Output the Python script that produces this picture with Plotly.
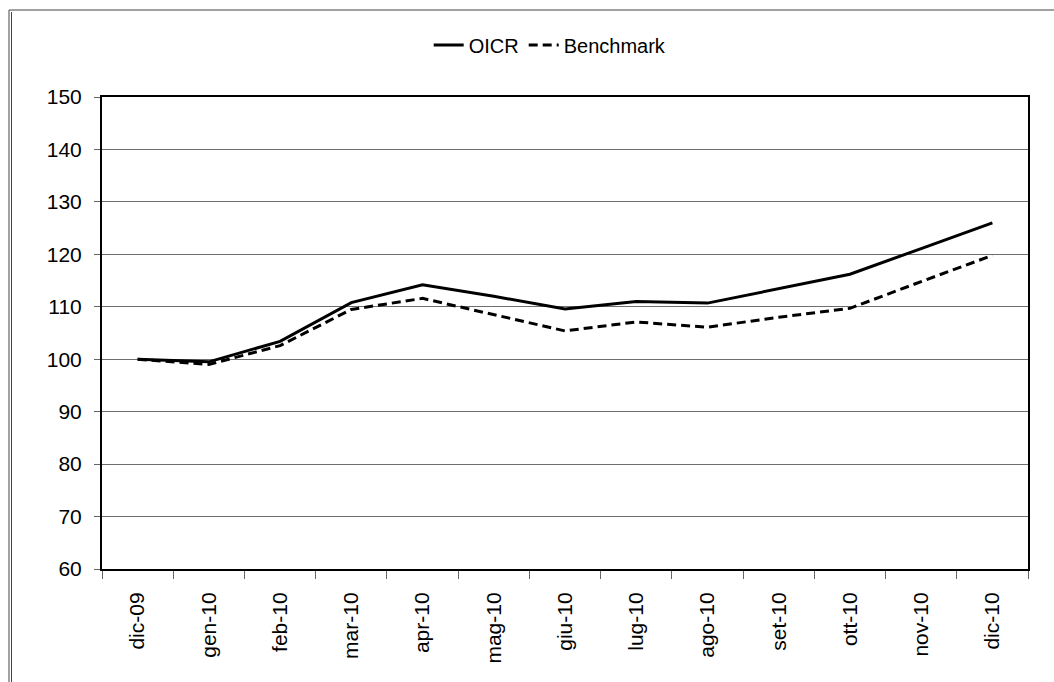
import plotly.graph_objects as go

months = ["dic-09", "gen-10", "feb-10", "mar-10", "apr-10", "mag-10", "giu-10",
          "lug-10", "ago-10", "set-10", "ott-10", "nov-10", "dic-10"]
oicr = [100.0, 99.5, 103.4, 110.8, 114.2, 112.0, 109.6, 111.0, 110.7, 113.4, 116.2, 121.1, 126.0]
benchmark = [100.0, 99.0, 102.6, 109.5, 111.6, 108.5, 105.4, 107.1, 106.1, 108.0, 109.7, 114.8, 119.8]
y_ticks = [60, 70, 80, 90, 100, 110, 120, 130, 140, 150]

FONT = "Liberation Sans, Arial, sans-serif"

fig = go.Figure()
fig.add_trace(go.Scatter(x=months, y=oicr, name="OICR", mode="lines",
                         line=dict(color="black", width=3)))
fig.add_trace(go.Scatter(x=months, y=benchmark, name="Benchmark", mode="lines",
                         line=dict(color="black", width=3, dash="9px,5px")))

L, R, T, B = 102, 26, 97, 113
fig.update_layout(
    width=1054, height=682,
    margin=dict(l=L, r=R, t=T, b=B, autoexpand=False),
    paper_bgcolor="white", plot_bgcolor="white",
    font=dict(family=FONT, color="black", size=16),
    showlegend=True,
    legend=dict(orientation="h", xref="container", yref="container",
                x=0.522, xanchor="center", y=1 - 45 / 682, yanchor="middle",
                font=dict(family=FONT, size=20),
                itemwidth=30, bgcolor="rgba(0,0,0,0)"),
    xaxis=dict(type="category", range=[-0.5, 12.5], tickangle=-90, showgrid=False,
               ticks="outside", ticklen=8, tickcolor="#666",
               tickson="boundaries", showline=True, linecolor="black",
               linewidth=2, mirror=True, tickfont=dict(size=21),
               ticklabelstandoff=13),
    yaxis=dict(range=[60, 150], tickvals=y_ticks, showgrid=True,
               gridcolor="#6e6e6e", gridwidth=1, ticks="outside", ticklen=6,
               tickcolor="#666", showline=True, linecolor="black", linewidth=2,
               mirror=True, zeroline=False, tickfont=dict(size=21),
               ticklabelstandoff=8),
)

pw = 1054 - L - R
ph = 682 - T - B
def px_x(p):
    return (p - L) / pw
def px_y(p):
    return 1 - (p - T) / ph

fig.add_shape(type="line", xref="paper", yref="paper", x0=px_x(9), x1=px_x(1060),
              y0=px_y(10), y1=px_y(10), line=dict(color="#444", width=1))
fig.add_shape(type="line", xref="paper", yref="paper", x0=px_x(9), x1=px_x(9),
              y0=px_y(10), y1=px_y(690), line=dict(color="#444", width=1))
fig.add_shape(type="line", xref="paper", yref="paper", x0=px_x(11.5), x1=px_x(11.5),
              y0=px_y(12), y1=px_y(690), line=dict(color="#444", width=1))

fig.write_html("out.html", config={"displayModeBar": False},
               post_script="document.body.style.margin='0';")
